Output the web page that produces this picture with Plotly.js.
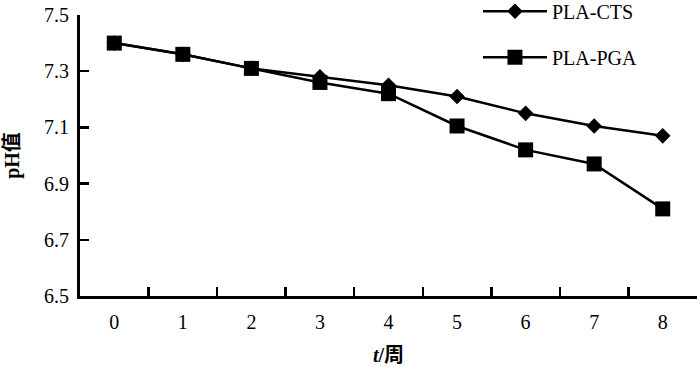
<!DOCTYPE html>
<html>
<head>
<meta charset="utf-8">
<script src="https://cdn.plot.ly/plotly-3.0.1.min.js"></script>
<style>html,body{margin:0;padding:0;background:#fff;}#chart{width:700px;height:367px;}</style>
</head>
<body>
<div id="chart"></div>
<script>
var weeks = ['0','1','2','3','4','5','6','7','8'];
var plaCts = [7.40, 7.36, 7.31, 7.28, 7.25, 7.21, 7.15, 7.105, 7.07];
var plaPga = [7.40, 7.36, 7.31, 7.26, 7.22, 7.105, 7.02, 6.97, 6.81];
var yTicks = [6.5, 6.7, 6.9, 7.1, 7.3, 7.5];
var yTickText = ['6.5', '6.7', '6.9', '7.1', '7.3', '7.5'];

var FONT = 'Liberation Serif, Times New Roman, Noto Sans CJK SC, serif';

var traces = [
  {
    x: weeks, y: plaCts, name: 'PLA-CTS', type: 'scatter', mode: 'lines+markers',
    legendgroup: 'a',
    line: {color: '#000', width: 2.5},
    marker: {symbol: 'diamond', size: 12, color: '#000'}
  },
  {
    x: weeks, y: plaPga, name: 'PLA-PGA', type: 'scatter', mode: 'lines+markers',
    legendgroup: 'b',
    line: {color: '#000', width: 2.5},
    marker: {symbol: 'square', size: 15, color: '#000'}
  }
];

var layout = {
  width: 700, height: 367,
  margin: {l: 80, r: 3, t: 15, b: 71, pad: 0, autoexpand: false},
  paper_bgcolor: '#fff', plot_bgcolor: '#fff',
  font: {family: FONT, color: '#000', size: 20},
  showlegend: true,
  legend: {
    x: 0.645, y: 1.083, xanchor: 'left', yanchor: 'top',
    bgcolor: 'rgba(0,0,0,0)', borderwidth: 0,
    font: {family: FONT, size: 20, color: '#000'},
    itemwidth: 64, traceorder: 'grouped', tracegroupgap: 17
  },
  xaxis: {
    type: 'category',
    range: [-0.5, 8.5],
    showline: true, linecolor: '#000', linewidth: 3,
    ticks: 'inside', tickson: 'boundaries', ticklen: 9, tickwidth: 2.5, tickcolor: '#000',
    showgrid: false, zeroline: false,
    ticklabelstandoff: 6,
    tickfont: {family: FONT, size: 20, color: '#000'},
    title: {text: '<b><i>t</i>/周</b>', font: {family: FONT, size: 20, color: '#000'}, standoff: 16},
    fixedrange: true
  },
  yaxis: {
    range: [6.5, 7.5],
    tickvals: yTicks, ticktext: yTickText,
    showline: true, linecolor: '#000', linewidth: 3,
    ticks: 'inside', ticklen: 9, tickwidth: 2.5, tickcolor: '#000',
    showgrid: false, zeroline: false,
    ticklabelstandoff: 4,
    tickfont: {family: FONT, size: 20, color: '#000'},
    title: {text: '<b>pH值</b>', font: {family: FONT, size: 20, color: '#000'}, standoff: 20},
    fixedrange: true
  }
};

Plotly.newPlot('chart', traces, layout, {displayModeBar: false, staticPlot: true});
</script>
</body>
</html>
